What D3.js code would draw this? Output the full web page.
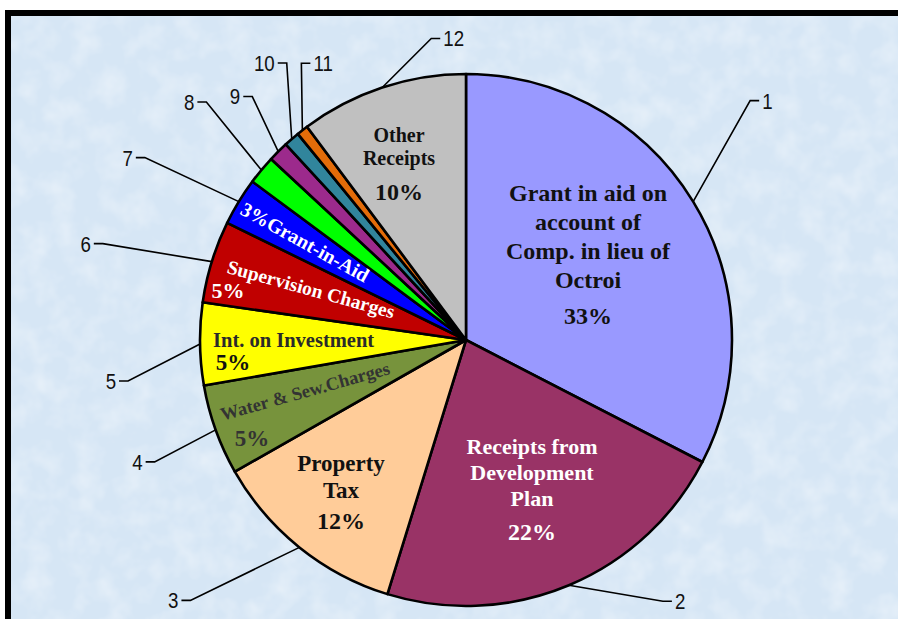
<!DOCTYPE html>
<html>
<head>
<meta charset="utf-8">
<script src="https://cdn.jsdelivr.net/npm/d3@7"></script>
<style>
  body { margin: 0; background: #fff; }
  svg { display: block; }
</style>
</head>
<body>
<svg id="chart" width="898" height="619"></svg>
<script>
// slice shares in percent, clockwise from 12 o'clock
var sliceIds = [1, 2, 3, 4, 5, 6, 7, 8, 9, 10, 11, 12];
var sliceValues = [32.6, 22.2, 12.0, 5.5, 5.0, 5.0, 2.9, 1.75, 1.25, 0.95, 0.7, 10.2];
var sliceNames = ["Grant in aid on account of Comp. in lieu of Octroi", "Receipts from Development Plan",
  "Property Tax", "Water & Sew.Charges", "Int. on Investment", "Supervision Charges", "Grant-in-Aid",
  "", "", "", "", "Other Receipts"];
var slicePct = ["33%", "22%", "12%", "5%", "5%", "5%", "3%", "", "", "", "", "10%"];
var sliceColors = ["#9999ff", "#993366", "#ffcc99", "#77933c", "#ffff00", "#c00000", "#0000ff",
  "#00ff00", "#9c2a8c", "#31859c", "#e36c09", "#c0c0c0"];

var W = 898, H = 619;
var cx = 466, cy = 340, R = 266;

var svg = d3.select("#chart");

// ---- background with mottled texture ----
var defs = svg.append("defs");
var f = defs.append("filter").attr("id", "mottle").attr("x", 0).attr("y", 0).attr("width", "100%").attr("height", "100%");
f.append("feTurbulence").attr("type", "fractalNoise").attr("baseFrequency", 0.04).attr("numOctaves", 3).attr("seed", 4);
f.append("feColorMatrix").attr("type", "matrix")
  .attr("values", "0 0 0 0 1  0 0 0 0 1  0 0 0 0 1  0.7 0 0 0 -0.28");
f.append("feComposite").attr("in2", "SourceGraphic").attr("operator", "in");

svg.append("rect").attr("x", 5).attr("y", 10).attr("width", W).attr("height", H).attr("fill", "#000");
svg.append("rect").attr("x", 11).attr("y", 16).attr("width", W).attr("height", H).attr("fill", "#d6e6f5");
svg.append("rect").attr("x", 11).attr("y", 16).attr("width", W).attr("height", H)
  .attr("fill", "#d6e6f5").attr("filter", "url(#mottle)");

// ---- pie ----
var pie = d3.pie().sort(null).value(function(d){ return d; });
var arcs = pie(sliceValues);
var arc = d3.arc().innerRadius(0).outerRadius(R);
var rimArc = d3.arc().innerRadius(R).outerRadius(R);

var g = svg.append("g").attr("transform", "translate(" + cx + "," + cy + ")");

g.selectAll("path.slice")
  .data(arcs)
  .enter()
  .append("path")
  .attr("class", "slice")
  .attr("d", arc)
  .attr("fill", function(d, i){ return sliceColors[i]; })
  .attr("stroke", "#000")
  .attr("stroke-width", 2.6)
  .attr("stroke-linejoin", "round");

// ---- leader lines with numbers ----
// elbow offset from the rim point, and which side the number sits on
var leaderOffset = [[57, -101], [94, 16], [-109, 53], [-61, 32], [-72, 37], [-109, -18],
  [-94, -44], [-55, -68], [-26, -55], [-5, -76], [-1, -67], [49, -49]];
var leaderSide = [1, 1, -1, -1, -1, -1, -1, -1, -1, -1, 1, 1];

var leaders = g.append("g").attr("class", "leaders");
arcs.forEach(function(d, i){
  var p = rimArc.centroid(d);
  var e = [p[0] + leaderOffset[i][0], p[1] + leaderOffset[i][1]];
  var s = leaderSide[i];
  var stub = [e[0] + s * 9, e[1]];
  leaders.append("path")
    .attr("d", d3.line()([p, e, stub]))
    .attr("fill", "none")
    .attr("stroke", "#000")
    .attr("stroke-width", 1.6);
  // narrow digits, as in the original
  leaders.append("text")
    .attr("transform", "translate(" + (stub[0] + s * 3) + "," + stub[1] + ") scale(0.85,1)")
    .attr("dy", "0.36em")
    .attr("text-anchor", s > 0 ? "start" : "end")
    .style("font-family", "'Liberation Sans', Arial, sans-serif")
    .style("font-size", "22px")
    .attr("fill", "#111")
    .text(sliceIds[i]);
});

// ---- slice labels ----
var serif = "'Liberation Serif', 'Times New Roman', serif";
var labels = svg.append("g").attr("class", "labels")
  .style("font-family", serif).style("font-weight", "bold");

function stack(x, ys, lines, size, color){
  lines.forEach(function(t, k){
    labels.append("text")
      .attr("x", x).attr("y", ys[k]).attr("dy", "0.35em")
      .attr("text-anchor", "middle")
      .style("font-size", size[k] + "px")
      .attr("fill", color)
      .text(t);
  });
}

stack(588, [193, 222, 251, 280, 316],
  ["Grant in aid on", "account of", "Comp. in lieu of", "Octroi", slicePct[0]],
  [24, 24, 24, 24, 24], "#111");
stack(532, [446, 472, 498, 532],
  ["Receipts from", "Development", "Plan", slicePct[1]],
  [22, 22, 22, 24], "#fff");
stack(341, [463, 490, 521],
  ["Property", "Tax", slicePct[2]],
  [23, 23, 24], "#111");
stack(399, [135, 158, 192],
  ["Other", "Receipts", slicePct[11]],
  [20, 20, 24], "#111");

// rotated labels for the thin slices
function rotated(x, y, angle, text, size, color){
  labels.append("text")
    .attr("transform", "translate(" + x + "," + y + ") rotate(" + angle + ")")
    .attr("dy", "0.35em")
    .attr("text-anchor", "middle")
    .style("font-size", size + "px")
    .attr("fill", color)
    .text(text);
}

rotated(305, 391, -15.6, sliceNames[3], 18.5, "#333");
rotated(252, 438, 0, slicePct[3], 23, "#333");

labels.append("text").attr("x", 213).attr("y", 340).attr("dy", "0.35em")
  .style("font-size", "20.5px").attr("fill", "#2a2a2a").text(sliceNames[4]);
rotated(233, 362, 0, slicePct[4], 23, "#111");

rotated(311, 289, 15.4, sliceNames[5], 19.5, "#fff");
rotated(228, 290, 0, slicePct[5], 22, "#fff");

rotated(305, 242, 29, slicePct[6] + sliceNames[6], 20, "#fff");
</script>
</body>
</html>
